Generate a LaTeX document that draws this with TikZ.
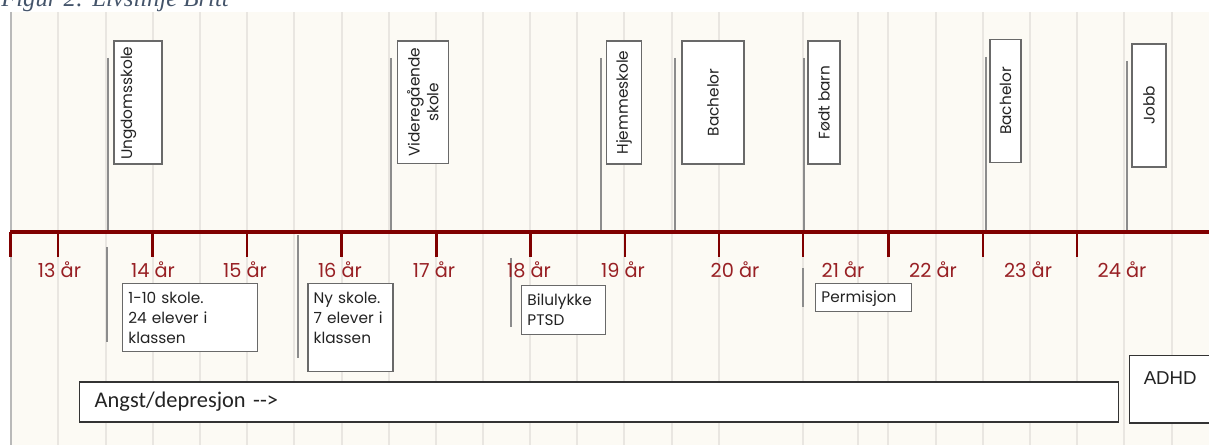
\documentclass[tikz,border=0pt]{standalone}
\usepackage{fontspec}
\setmainfont{Liberation Serif}
\newfontfamily\gothic{Poppins}
\newfontfamily\calibri{Carlito}
\newfontfamily\arial{Liberation Sans}
\usepackage{xcolor}
\usepackage{tikz}
\definecolor{axisred}{RGB}{128, 0, 0}
\definecolor{yearred}{RGB}{152, 32, 36}
\definecolor{paper}{RGB}{252, 250, 244}
\definecolor{gridgray}{RGB}{233, 230, 225}
\definecolor{markgray}{RGB}{140, 140, 140}
\definecolor{boxgray}{RGB}{105, 105, 105}
\definecolor{ink}{RGB}{35, 35, 35}
\definecolor{captionblue}{RGB}{68, 84, 106}

\begin{document}
\begin{tikzpicture}[
  x = 0.75pt, y = -0.75pt,
  gridline/.style = {draw=gridgray, line width=1.1pt},
  axis/.style = {draw=axisred, line width=3pt},
  tick/.style = {draw=axisred, line width=2.2pt},
  marker/.style = {draw=markgray, line width=1.5pt},
  year/.style = {font=\gothic\fontsize{14.5}{16}\selectfont, text=yearred,
                 anchor=base, inner sep=0pt},
  vbox/.style = {rectangle, draw=boxgray, line width=1pt, fill=white, rotate=90,
                 inner sep=0pt, align=center, text=ink,
                 font=\gothic\fontsize{11.5}{14}\selectfont},
  infobox/.style = {rectangle, draw=boxgray, line width=1pt, fill=white,
                    anchor=north west, inner xsep=4.3pt, inner ysep=0pt,
                    text height=15pt, align=left, text=ink,
                    font=\gothic\fontsize{11.5}{15}\selectfont},
  band/.style = {rectangle, draw=black!80, line width=1.1pt, fill=white,
                 inner ysep=0pt, align=left, text=ink}
]

\useasboundingbox (0,0) rectangle (1209,445);
\clip (0,0) rectangle (1209,445);

\node[font=\itshape\fontsize{18.5}{20}\selectfont, text=captionblue, anchor=base west,
      inner sep=0pt] (caption) at (1,7) {Figur 2: Livslinje Britt};

\fill[paper] (10,12) rectangle (1209,445);
\draw[draw=gray!55, line width=1.2pt] (10.7,12) -- (10.7,445);
\foreach \gx in {58,106,153,200,247,294,342,389,436,483,530,577,624,672,719,
                 803,858,888,936,983,1030,1077,1124,1172}
  \draw[gridline] (\gx,12) -- (\gx,445);

\foreach \mx/\ya/\yb in {108/58/232, 391/58/232, 601.3/58/232, 674.7/58/232,
                         804.3/58/232, 985.7/57/232, 1127/61/232,
                         107/247/342, 297.5/235/358, 510.7/258/327, 803/268/307}
  \draw[marker] (\mx,\ya) -- (\mx,\yb);

\draw[axis] (10,232) -- (1209,232);
\foreach \tx in {10.7,58,152.7,247,341.7,436.7,530.7,625,719,803,888.7,983,1077}
  \draw[tick] (\tx,232) -- (\tx,257);

\foreach \lx/\yr in {59.5/13,153/14,245/15,340/16,434/17,529/18,623/19,
                     735/20,843/21,933/22,1028/23,1122/24}
  \node[year] (year\yr) at (\lx,277) {\yr\ år};

\node[vbox, minimum width=92.25pt, minimum height=36pt, text width=86.25pt,
      align=left, inner xsep=3pt, text height=13.5pt, text depth=22.5pt]
      (ungdom) at (138,102.5) {Ungdomsskole};
\node[vbox, minimum width=91.9pt, minimum height=38.25pt] (vgs) at (422.8,102.3)
      {Videregående\\skole};
\node[vbox, minimum width=92.25pt, minimum height=26.7pt] (hjem) at (624,102.5)
      {Hjemmeskole};
\node[vbox, minimum width=92.25pt, minimum height=46.5pt] (bachelor1) at (713,102.5)
      {Bachelor};
\node[vbox, minimum width=92.25pt, minimum height=24pt] (barn) at (824,102.5)
      {Født barn};
\node[vbox, minimum width=91.9pt, minimum height=23.25pt] (bachelor2) at (1005.5,101)
      {Bachelor};
\node[vbox, minimum width=92.25pt, minimum height=25.5pt] (jobb) at (1149,105.5)
      {Jobb};

\node[infobox, text width=92.65pt, text depth=36pt] (skole1) at (122,283)
      {1-10 skole.\\24 elever i\\klassen};
\node[infobox, text width=55.15pt, text depth=51pt] (skole2) at (307.3,283)
      {Ny skole.\\7 elever i\\klassen};
\node[infobox, text width=54.4pt, text depth=21.75pt] (ulykke) at (521,285)
      {Bilulykke\\PTSD};
\node[infobox, text width=63.4pt, text height=14.25pt, text depth=6.75pt]
      (permisjon) at (815,283) {Permisjon};

\node[band, font=\calibri\fontsize{16.8}{19}\selectfont, anchor=west,
      minimum height=30pt, text width=756.75pt, inner xsep=11.25pt]
      (angst) at (79,402) {Angst/depresjon -{}->};
\node[band, font=\arial\fontsize{14}{16}\selectfont, anchor=north west,
      text width=60pt, inner xsep=10.5pt, text height=21.25pt, text depth=29.25pt]
      (adhd) at (1129,355) {ADHD};

\end{tikzpicture}
\end{document}
